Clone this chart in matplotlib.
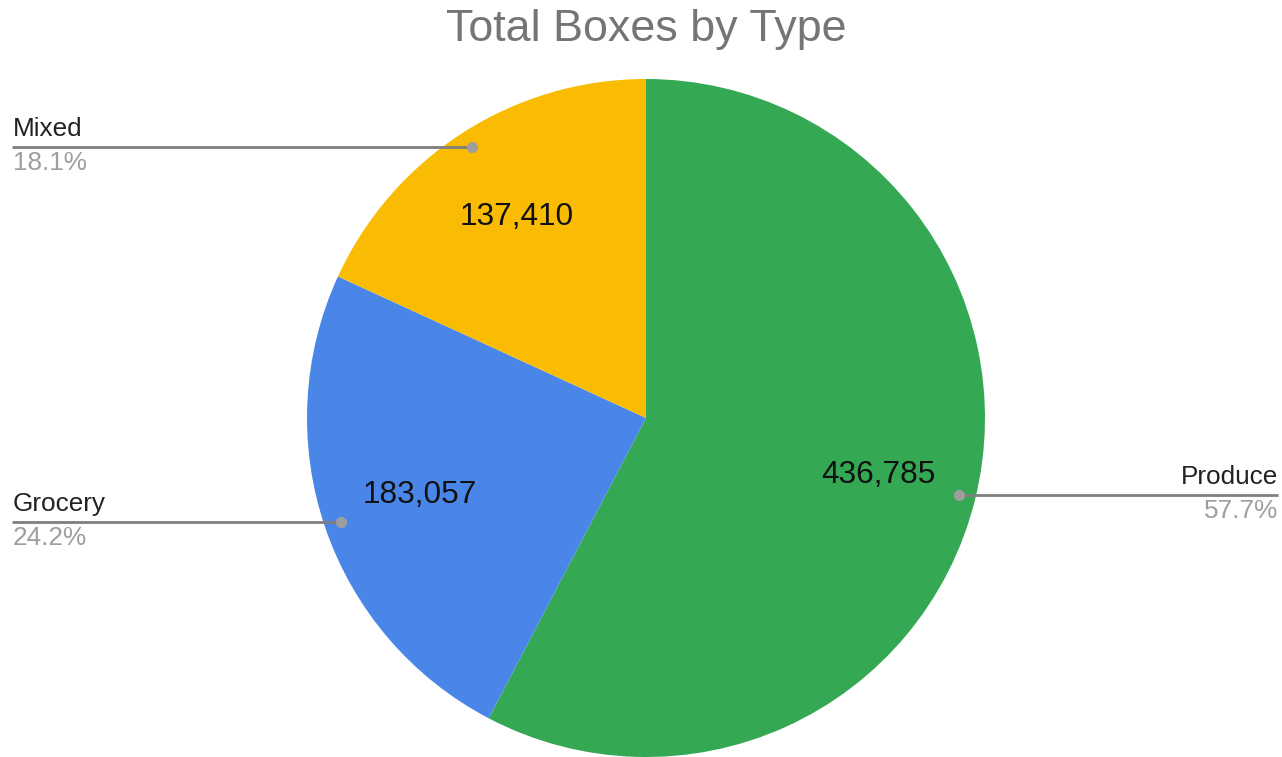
import numpy as np
import matplotlib.pyplot as plt

plt.rcParams['font.family'] = ['Liberation Sans', 'DejaVu Sans']

categories = ['Produce', 'Grocery', 'Mixed']
values = [436785, 183057, 137410]
colors = ['#34a853', '#4a86e8', '#f9bc03']

W, H = 1282, 757
fig = plt.figure(figsize=(W / 100, H / 100), dpi=100)
ax = fig.add_axes([0, 0, 1, 1])

cx, cy, R = 646, 339, 339
total = sum(values)
wedges, texts, autotexts = ax.pie(
    values, colors=colors, startangle=90, counterclock=False,
    center=(cx, cy), radius=R, pctdistance=0.705,
    autopct=lambda p: f'{p * total / 100:,.0f}',
    textprops=dict(fontsize=22.8, color='#111111'),
    wedgeprops=dict(linewidth=0), frame=True)
ax.set_xlim(0, W)
ax.set_ylim(0, H)
ax.set_aspect('equal')
ax.axis('off')

for w, name, v in zip(wedges, categories, values):
    ang = np.deg2rad((w.theta1 + w.theta2) / 2)
    dx, dy = cx + 0.95 * R * np.cos(ang), cy + 0.95 * R * np.sin(ang)
    pct = f'{100 * v / total:.1f}%'
    if np.cos(ang) < 0:
        x_end, ha = 12, 'left'
        tx = 13
    else:
        x_end, ha = W - 4, 'right'
        tx = W - 4
    ax.plot([dx, x_end], [dy, dy], color='#7f7f7f', lw=2, zorder=3,
            solid_capstyle='butt')
    ax.plot(dx, dy, 'o', color='#9e9e9e', ms=8, zorder=4, mec='none')
    ax.text(tx, dy + 6, name, ha=ha, va='bottom', fontsize=18.8,
            color='#222222')
    ax.text(tx, dy - 4, pct, ha=ha, va='top', fontsize=18.8,
            color='#9e9e9e')

fig.text(646 / W, 1 - 29 / H, 'Total Boxes by Type', ha='center',
         va='center', fontsize=32.3, color='#757575')

fig.savefig('out.png', dpi=100)
